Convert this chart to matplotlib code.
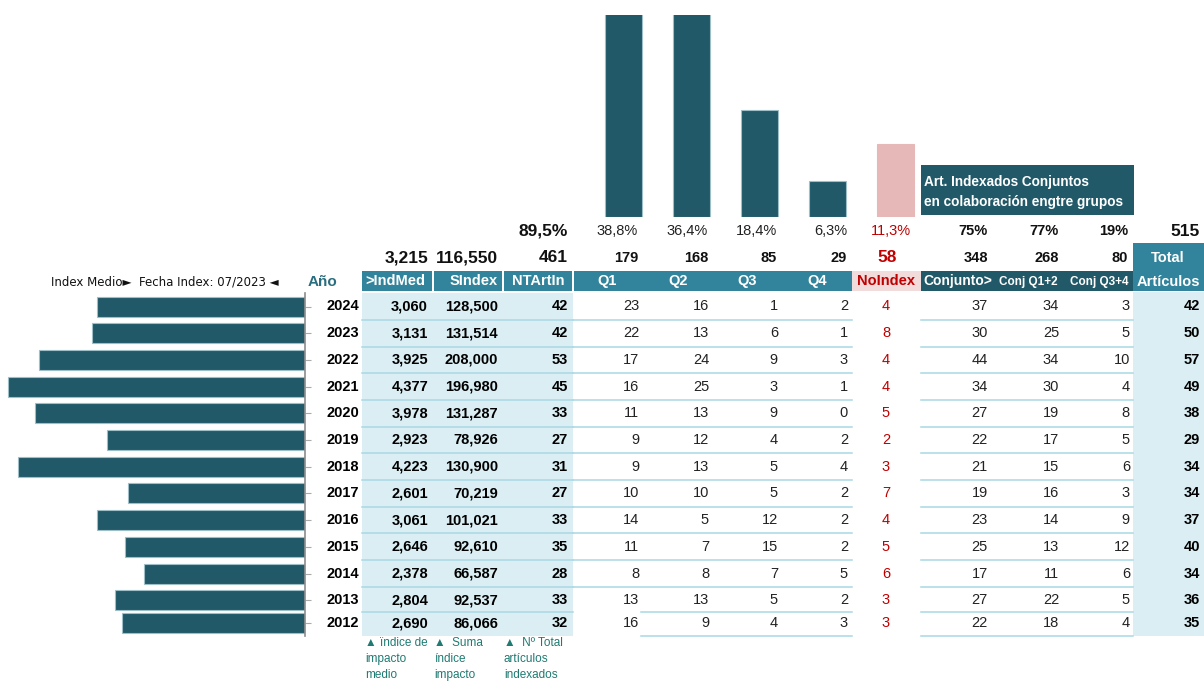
import matplotlib
matplotlib.use('Agg')
import matplotlib.pyplot as plt
from matplotlib.patches import Rectangle

plt.rcParams['font.family'] = ['Liberation Sans Narrow', 'Liberation Sans', 'DejaVu Sans']

years = [2024, 2023, 2022, 2021, 2020, 2019, 2018, 2017, 2016, 2015, 2014, 2013, 2012]
ind_med = [3060, 3131, 3925, 4377, 3978, 2923, 4223, 2601, 3061, 2646, 2378, 2804, 2690]
s_index = [128500, 131514, 208000, 196980, 131287, 78926, 130900, 70219, 101021, 92610, 66587, 92537, 86066]
nt_art = [42, 42, 53, 45, 33, 27, 31, 27, 33, 35, 28, 33, 32]
q1 = [23, 22, 17, 16, 11, 9, 9, 10, 14, 11, 8, 13, 16]
q2 = [16, 13, 24, 25, 13, 12, 13, 10, 5, 7, 8, 13, 9]
q3 = [1, 6, 9, 3, 9, 4, 5, 5, 12, 15, 7, 5, 4]
q4 = [2, 1, 3, 1, 0, 2, 4, 2, 2, 2, 5, 2, 3]
no_index = [4, 8, 4, 4, 5, 2, 3, 7, 4, 5, 6, 3, 3]
conj = [37, 30, 44, 34, 27, 22, 21, 19, 23, 25, 17, 27, 22]
conj_q12 = [34, 25, 34, 30, 19, 17, 15, 16, 14, 13, 11, 22, 18]
conj_q34 = [3, 5, 10, 4, 8, 5, 6, 3, 9, 12, 6, 5, 4]
total = [42, 50, 57, 49, 38, 29, 34, 34, 37, 40, 34, 36, 35]

# summary rows
tot_labels = ['3,215', '116,550', '461', '179', '168', '85', '29', '58', '348', '268', '80']
pct_labels = ['89,5%', '38,8%', '36,4%', '18,4%', '6,3%', '11,3%', '75%', '77%', '19%']
q_cats = ['Q1', 'Q2', 'Q3', 'Q4', 'NoIndex']
q_totals = [179, 168, 85, 29, 58]
grand_total = '515'

# ---- colours ----
dark = '#215968'
teal = '#31849b'
shade = '#daeef3'
line_c = '#a9d8e5'
pink_h = '#f2dcdb'
pink_b = '#e6b8b7'
red = '#c00000'
foot_c = '#1f7a72'

W, H = 1204, 681
fig = plt.figure(figsize=(W / 100, H / 100), dpi=100)
ax = fig.add_axes([0, 0, 1, 1])
ax.set_xlim(0, W)
ax.set_ylim(H, 0)
ax.axis('off')

# row centres (pixels); last row is squeezed in the original
row_y = [306.5 + 26.7 * i for i in range(12)] + [623]
bounds = [(row_y[i] + row_y[i + 1]) / 2 for i in range(12)] + [636]


def rect(x0, x1, y0, y1, c):
    ax.add_patch(Rectangle((x0, y0), x1 - x0, y1 - y0, color=c, lw=0, zorder=1))


# shading
rect(362, 573, 293, 636, shade)
rect(1133, 1204, 292, 636, shade)

# header cells
rect(362, 432, 271, 291, teal)
rect(434, 502, 271, 291, teal)
rect(504, 572, 271, 291, teal)
rect(574, 852, 271, 291, teal)
rect(852, 921, 271, 291, pink_h)
rect(921, 1133, 271, 291, dark)
rect(1133, 1204, 243, 291, teal)
rect(921, 1134, 165, 215, dark)

# row lines
for i, b in enumerate(bounds):
    if i < 12:
        ax.plot([362, 573], [b, b], color=line_c, lw=1.1, zorder=2)
    xs = 641 if i >= 11 else 573
    ax.plot([xs, 852], [b, b], color=line_c, lw=1.1, zorder=2)
    ax.plot([921, 1133], [b, b], color=line_c, lw=1.1, zorder=2)

fs = 10.5
hw = dict(color='white', fontweight='bold', fontsize=10.5, va='center', zorder=3)
ax.text(365, 281, '>IndMed', ha='left', **hw)
ax.text(498, 281, 'SIndex', ha='right', **hw)
ax.text(538, 281, 'NTArtIn', ha='center', **hw)
for x, lab in zip([607, 678, 747, 817], q_cats[:4]):
    ax.text(x, 281, lab, ha='center', **hw)
ax.text(886, 281, 'NoIndex', ha='center', va='center', color=red, fontweight='bold', fontsize=10.5, zorder=3)
ax.text(923, 281, 'Conjunto>', ha='left', color='white', fontweight='bold', fontsize=10, va='center', zorder=3)
ax.text(1028, 282, 'Conj Q1+2', ha='center', color='white', fontweight='bold', fontsize=8.5, va='center', zorder=3)
ax.text(1099, 282, 'Conj Q3+4', ha='center', color='white', fontweight='bold', fontsize=8.5, va='center', zorder=3)
ax.text(1168, 258, 'Total', ha='center', **hw)
ax.text(1168, 282, 'Artículos', ha='center', **hw)
bw = dict(color='white', fontweight='bold', fontsize=9.8, va='center', ha='left', zorder=3)
ax.text(924, 182, 'Art. Indexados Conjuntos', **bw)
ax.text(924, 202, 'en colaboración engtre grupos', **bw)

ax.text(322, 282, 'Año', ha='center', va='center', color='#2b6e7f', fontweight='bold', fontsize=11)
ax.text(279, 282, 'Index Medio\u25ba  Fecha Index: 07/2023 \u25c4', ha='right', va='center',
        fontsize=8.5, color='#111111', family=['Liberation Sans Narrow', 'DejaVu Sans'])

# totals row and percentage row
tot_x = [428, 498, 568, 638, 708, 777, 847, 887, 988, 1059, 1128]
for i, (x, lab) in enumerate(zip(tot_x, tot_labels)):
    if i == 7:
        ax.text(x, 258, lab, ha='center', va='center', fontsize=12.5, fontweight='bold', color=red)
    else:
        fsz = 12.5 if i < 3 else 10.5
        ax.text(x, 258, lab, ha='right', va='center', fontsize=fsz, fontweight='bold', color='#111111')

pct_x = [568, 638, 708, 777, 847, 891, 988, 1059, 1128]
for i, (x, lab) in enumerate(zip(pct_x, pct_labels)):
    if i == 0:
        ax.text(x, 231, lab, ha='right', va='center', fontsize=12.5, fontweight='bold', color='#111111')
    elif i == 5:
        ax.text(x, 231, lab, ha='center', va='center', fontsize=10.5, color=red)
    elif i < 5:
        ax.text(x, 231, lab, ha='right', va='center', fontsize=10.5, color='#222222')
    else:
        ax.text(x, 231, lab, ha='right', va='center', fontsize=10.5, fontweight='bold', color='#111111')
ax.text(1200, 231, grand_total, ha='right', va='center', fontsize=12.5, fontweight='bold', color='#111111')

# body
for i, y in enumerate(row_y):
    ax.text(359, y, str(years[i]), ha='right', va='center', fontsize=fs, fontweight='bold')
    ax.text(428, y, f'{ind_med[i]:,}', ha='right', va='center', fontsize=fs, fontweight='bold')
    ax.text(498, y, f'{s_index[i]:,}', ha='right', va='center', fontsize=fs, fontweight='bold')
    ax.text(568, y, str(nt_art[i]), ha='right', va='center', fontsize=fs, fontweight='bold')
    for x, col in zip([639, 709, 778, 848], [q1, q2, q3, q4]):
        ax.text(x, y, str(col[i]), ha='right', va='center', fontsize=fs, color='#222222')
    ax.text(886, y, str(no_index[i]), ha='center', va='center', fontsize=fs, color=red)
    for x, col in zip([988, 1059, 1130], [conj, conj_q12, conj_q34]):
        ax.text(x, y, str(col[i]), ha='right', va='center', fontsize=fs, color='#222222')
    ax.text(1200, y, str(total[i]), ha='right', va='center', fontsize=fs, fontweight='bold')

# footnotes
notes = [(365, ['\u25b2 ïndice de', 'impacto', 'medio']),
         (434, ['\u25b2  Suma', 'índice', 'impacto']),
         (504, ['\u25b2  Nº Total', 'artículos', 'indexados'])]
for x, lines in notes:
    for k, t in enumerate(lines):
        ax.text(x, 643 + 16 * k, t, ha='left', va='center', fontsize=8.5, color=foot_c)

# horizontal bars: index medio per year
top_px, bot_px = 293, 636
hax = fig.add_axes([0, (H - bot_px) / H, 305 / W, (bot_px - top_px) / H])
hax.barh(row_y, ind_med, height=20, color=dark, edgecolor='#9fbfc8', linewidth=0.8)
hax.set_xlim(4493, 0)
hax.set_ylim(bot_px, top_px)
hax.patch.set_alpha(0)
for s in ['top', 'left', 'bottom']:
    hax.spines[s].set_visible(False)
hax.spines['right'].set_color('#8c8c8c')
hax.spines['right'].set_linewidth(1.2)
hax.set_xticks([])
hax.yaxis.tick_right()
hax.set_yticks(row_y)
hax.set_yticklabels([])
hax.tick_params(axis='y', length=4, color='#aaaaaa', width=0.8)

# vertical bars: articles per quartile
vax = fig.add_axes([589.5 / W, (H - 217) / H, 340 / W, (217 - 15) / H])
vcolors = [dark, dark, dark, dark, pink_b]
vedges = ['#9fbfc8'] * 4 + [pink_b]
vax.bar(range(len(q_cats)), q_totals, width=0.545, color=vcolors, edgecolor=vedges, linewidth=0.8)
vax.set_xlim(-0.5, 4.5)
vax.set_ylim(0, 161)
vax.axis('off')

fig.savefig('out.png', dpi=100)
